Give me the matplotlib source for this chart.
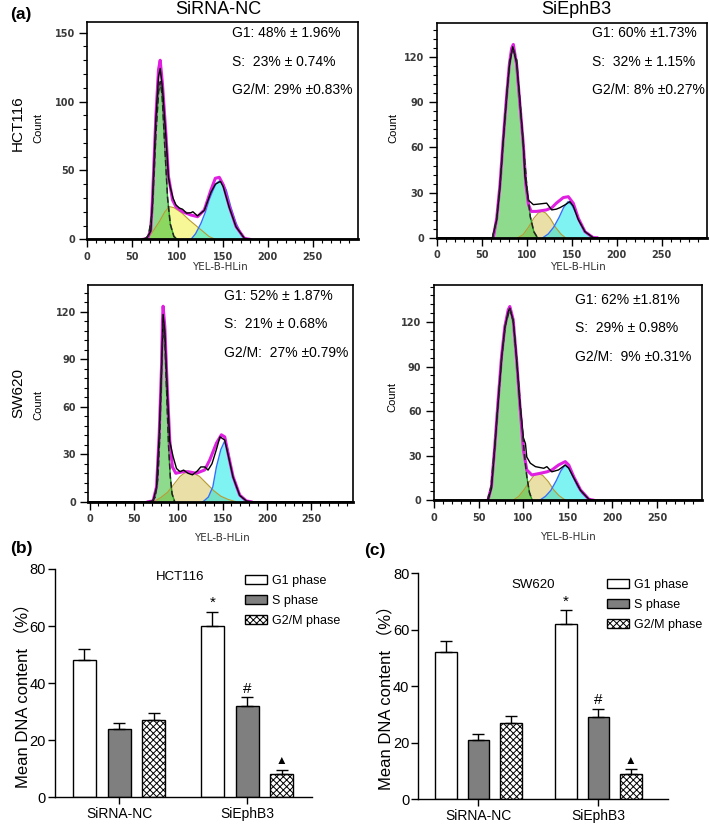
import numpy as np
import matplotlib
matplotlib.use("Agg")
import matplotlib.pyplot as plt
from matplotlib.ticker import FixedLocator
from matplotlib.patches import Patch

W, H = 709, 824

# ---- flow cytometry histograms ----
# HCT116 / SiRNA-NC
a_env_x = [62, 66.7, 70.4, 72.2, 76, 78.9, 80.8, 83.3, 87.1, 90, 92.6, 94.5, 98.2, 105.6, 114.9,
           122.2, 129.7, 137, 141.9, 146.3, 150.8, 157.4, 164.9, 174.1, 180]
a_env_y = [0, 0.5, 6.8, 28.5, 89, 123, 130, 113, 77, 45.5, 35.8, 28.5, 23.7, 20, 17.6,
           16.4, 21.3, 35.8, 44.3, 45, 39.4, 23.7, 9.2, 0.7, 0]
a_dat_x = [0, 60, 66, 70.4, 72.2, 76, 78.9, 80.8, 83.3, 87.1, 90, 91.9, 95, 98.2, 102, 105.6, 110,
           114.9, 117, 122.2, 129.7, 137, 141.9, 147.6, 150.8, 157.4, 164.9, 174.1, 180, 300]
a_dat_y = [0, 0, 1, 6, 27, 87, 118, 124, 110, 75, 45, 38, 30, 25, 22.7, 21.8, 19, 19.3, 20, 17,
           21, 34, 40, 42, 38, 23, 9, 0.7, 0, 0]
a_g1_x = [64, 68, 72, 76, 79, 81, 83, 86, 89, 92, 96, 100]
a_g1_y = [0, 3, 20, 76, 107, 114.5, 104, 66, 30, 11, 2, 0]
a_s_x = [66, 72, 80, 86, 91, 96, 105, 113, 124, 135, 142]
a_s_y = [0, 5, 13, 20, 23.7, 23, 19, 14, 8, 2, 0]
a_g2_x = [115, 120, 126, 131, 135, 139, 143, 147, 150, 154, 159, 165, 172, 178]
a_g2_y = [0, 4, 11.6, 20, 28.5, 35, 40.7, 42.6, 41, 35.8, 23.7, 11.6, 2, 0]

# HCT116 / SiEphB3
b_env_x = [62.9, 66.7, 70.3, 74, 77.8, 80.7, 83.3, 85.2, 88.9, 92.6, 96.3, 99, 102, 105, 111,
           122, 128, 133, 140.7, 146.3, 151.8, 157.4, 164.8, 174, 178]
b_env_y = [0, 12.9, 35, 66, 95, 115, 126, 128.5, 115, 88, 62, 36, 22, 17.5, 17.5,
           18.5, 20, 23, 26.7, 27.3, 22.9, 12.9, 4, 0, 0]
b_dat_x = [0, 62, 66.7, 70.3, 74, 77.8, 80.7, 84.5, 88.9, 92.6, 96.3, 98.1, 101.9, 107.4, 115,
           122.2, 127.8, 133, 137, 143, 148, 151.8, 157.4, 164.8, 174, 178, 300]
b_dat_y = [0, 0, 12, 34, 65, 94, 114, 127, 116, 90, 62, 41, 25, 22, 22.5,
           23, 18.5, 19, 20, 22, 24, 21, 12, 4, 0, 0, 0]
b_g1_x = [62, 66.5, 70.3, 74, 77.8, 81.5, 85, 88.9, 92.6, 96.3, 100, 104, 108, 112]
b_g1_y = [0, 12, 34, 65, 95, 120, 126, 118, 90, 62, 35, 14, 4, 0]
b_s_x = [90, 96, 102, 108, 113, 117, 121, 126, 132, 138, 143]
b_s_y = [0, 2, 7, 13, 16.5, 17.5, 16.5, 13, 7, 2.5, 0]
b_g2_x = [118, 124, 130, 136, 141, 146, 150, 155, 160, 166, 172, 178]
b_g2_y = [0, 2.5, 7, 13.5, 20, 24, 22, 16, 9, 3.5, 1, 0]

# SW620 / SiRNA-NC
c_env_x = [66, 71.6, 75.5, 78.5, 81.1, 82.2, 82.9, 84.8, 87.4, 90.4, 93.4, 97.2, 105.4, 111,
           120.5, 129.8, 135.5, 143, 148.6, 152.4, 156.1, 161.8, 169.3, 176.8, 182]
c_env_y = [0, 0.5, 9.5, 43, 85.6, 115, 123.6, 111, 75, 39, 22, 18, 19, 19,
           18, 20.1, 26.4, 37, 42.3, 41, 30.7, 15.9, 4.2, 0.5, 0]
c_dat_x = [0, 66, 71.6, 75.5, 78.5, 81.1, 82.9, 84.8, 87.4, 90.4, 94.2, 98, 102, 106, 111, 116,
           121.6, 125.4, 130, 133.6, 138, 143, 147, 152.4, 156.1, 161.8, 169.3, 176.8, 182, 300]
c_dat_y = [0, 0, 0.5, 9, 42, 84, 118.4, 108, 73, 38, 28.5, 21, 19, 20, 18, 17,
           19.5, 22, 22, 20, 24, 33, 41, 39, 30, 15.5, 4, 0.5, 0, 0]
c_g1_x = [70, 74, 77, 79, 81, 83, 85, 87, 89, 91, 93, 96]
c_g1_y = [0, 3, 15, 40, 80, 113, 100, 68, 36, 16, 5, 0]
c_s_x = [72, 80, 88, 95, 102, 109, 116, 124, 132, 140, 148, 156, 165]
c_s_y = [0, 2.5, 6, 11, 16, 19, 18.5, 16, 11.5, 7, 3.5, 1.5, 0]
c_g2_x = [128, 134, 139, 143, 148, 152, 156, 160, 165, 170, 175, 180]
c_g2_y = [0, 3, 9.5, 22, 33, 38, 33, 20, 9.5, 4, 1, 0]

# SW620 / SiEphB3
d_env_x = [60.6, 64.4, 68.1, 71.9, 75.7, 79.4, 83.2, 85, 88.8, 92.6, 96.4, 100.2, 104, 109.6,
           119, 126.5, 132.2, 139.6, 147.1, 151, 156.6, 164.2, 173.6, 178]
d_env_y = [0, 9, 36, 67.5, 96.8, 117, 128.3, 130.5, 121.5, 94.5, 63, 33.8, 20.3, 16.9,
           18, 19, 20.3, 23.6, 25.9, 23.6, 15.7, 6.8, 0.5, 0]
d_dat_x = [0, 60.6, 64.4, 68.1, 71.9, 75.7, 79.4, 83.2, 85, 88.8, 92.6, 96.4, 100.2, 102.5, 104,
           108, 113.7, 123, 126.5, 132, 139.6, 147, 151, 156.6, 164.2, 173.6, 178, 300]
d_dat_y = [0, 0, 8, 35, 66, 95, 116, 127, 129.4, 121, 95, 64, 42, 38, 29,
           24.8, 22.5, 21.4, 22.5, 19, 20.3, 23.6, 21.5, 15, 6.5, 0.5, 0, 0]
d_g1_x = [60, 64, 68, 72, 76, 80, 85, 89, 93, 97, 101, 104, 107, 110]
d_g1_y = [0, 9, 36, 67, 97, 118, 129, 120, 93, 62, 33, 16, 5, 0]
d_s_x = [89, 95, 101, 107, 112, 117, 122, 128, 134, 140, 147]
d_s_y = [0, 2.5, 7, 12.5, 16.5, 18, 16.5, 12.5, 7, 3, 0]
d_g2_x = [119, 125, 131, 137, 142, 147, 151, 156, 161, 166, 171, 177]
d_g2_y = [0, 2.5, 6.5, 13, 19.5, 23.6, 21.5, 15.5, 9, 4.5, 1.5, 0]

a_stats = ["G1: 48% \u00b1 1.96%", "S:  23% \u00b1 0.74%", "G2/M: 29% \u00b10.83%"]
b_stats = ["G1: 60% \u00b11.73%", "S:  32% \u00b1 1.15%", "G2/M: 8% \u00b10.27%"]
c_stats = ["G1: 52% \u00b1 1.87%", "S:  21% \u00b1 0.68%", "G2/M:  27% \u00b10.79%"]
d_stats = ["G1: 62% \u00b11.81%", "S:  29% \u00b1 0.98%", "G2/M:  9% \u00b10.31%"]

# ---- bar charts ----
groups = ["SiRNA-NC", "SiEphB3"]
phases = ["G1 phase", "S phase", "G2/M phase"]
hct_g1 = [48, 60]
hct_s = [24, 32]
hct_g2m = [27, 8]
hct_g1_err = [4, 5]
hct_s_err = [2, 3]
hct_g2m_err = [2.4, 1.7]
sw_g1 = [52, 62]
sw_s = [21, 29]
sw_g2m = [27, 9]
sw_g1_err = [4, 5]
sw_s_err = [2, 3]
sw_g2m_err = [2.4, 1.6]
marks = ["*", "#", "\u25b2"]

SANS = ["Liberation Sans", "DejaVu Sans"]
SANS_CJK = ["Liberation Sans", "Noto Sans CJK SC", "DejaVu Sans"]

fig = plt.figure(figsize=(W / 100, H / 100), dpi=100)


def ftext(x, y, s, **kw):
    fig.text(x / W, 1 - y / H, s, **kw)


def hist_panel(rect, xlim, ymax, yticks, yminor, env, dat, g1, s, g2, s_col, stats, stat_xy):
    ax = fig.add_axes(rect)
    ax.fill_between(s[0], s[1], color=s_col, alpha=0.5, lw=0)
    ax.fill_between(g2[0], g2[1], color="#00e6e6", alpha=0.5, lw=0)
    ax.fill_between(g1[0], g1[1], color="#32be32", alpha=0.55, lw=0)
    ax.plot(s[0], s[1], color="#b89a30", lw=0.8)
    ax.plot(g2[0], g2[1], color="#3070ff", lw=1.0)
    ax.plot(g1[0], g1[1], color="#2a9a2a", lw=1.0)
    ax.plot(env[0], env[1], color="#e020e0", lw=2.2)
    ax.plot(dat[0], dat[1], color="black", lw=1.0)
    ax.plot(g1[0], g1[1], color="#222222", lw=1.1, dashes=(4, 2))
    ax.set_xlim(*xlim)
    ax.set_ylim(0, ymax)
    ax.xaxis.set_major_locator(FixedLocator([0, 50, 100, 150, 200, 250]))
    ax.xaxis.set_minor_locator(FixedLocator(np.arange(0, 300, 10)))
    ax.yaxis.set_major_locator(FixedLocator(yticks))
    ax.yaxis.set_minor_locator(FixedLocator(np.arange(0, ymax, yminor)))
    ax.tick_params(which="major", direction="out", length=6, width=1,
                   labelsize=7, labelcolor="#3a3a3a", pad=3)
    ax.tick_params(which="minor", direction="out", length=3, width=0.8)
    for lab in ax.get_xticklabels() + ax.get_yticklabels():
        lab.set_fontweight("bold")
    for sp in ax.spines.values():
        sp.set_linewidth(1.2)
    ax.spines["bottom"].set_linewidth(2)
    for i, t in enumerate(stats):
        ftext(stat_xy[0], stat_xy[1] + i * 28.5, t, fontsize=10, family=SANS,
              ha="left", va="center")
    return ax


hist_panel([0.1231, 0.7096, 0.3818, 0.2641], (0, 300), 158, [0, 50, 100, 150], 10,
           (a_env_x, a_env_y), (a_dat_x, a_dat_y), (a_g1_x, a_g1_y), (a_s_x, a_s_y),
           (a_g2_x, a_g2_y), "#f0f030", a_stats, (232, 33))
hist_panel([0.6159, 0.7115, 0.3808, 0.2610], (0, 300), 143, [0, 30, 60, 90, 120], 6,
           (b_env_x, b_env_y), (b_dat_x, b_dat_y), (b_g1_x, b_g1_y), (b_s_x, b_s_y),
           (b_g2_x, b_g2_y), "#d4c050", b_stats, (592, 33))
hist_panel([0.1245, 0.3911, 0.3733, 0.2630], (-1.5, 297), 137, [0, 30, 60, 90, 120], 6,
           (c_env_x, c_env_y), (c_dat_x, c_dat_y), (c_g1_x, c_g1_y), (c_s_x, c_s_y),
           (c_g2_x, c_g2_y), "#d4c050", c_stats, (224, 296))
hist_panel([0.6121, 0.3932, 0.3776, 0.2609], (0, 300), 145, [0, 30, 60, 90, 120], 6,
           (d_env_x, d_env_y), (d_dat_x, d_dat_y), (d_g1_x, d_g1_y), (d_s_x, d_s_y),
           (d_g2_x, d_g2_y), "#d4c050", d_stats, (575, 300))

# panel labels and headings
ftext(10, 15, "(a)", fontsize=12.5, fontweight="bold", family=SANS, ha="left", va="center")
ftext(10, 549, "(b)", fontsize=12.5, fontweight="bold", family=SANS, ha="left", va="center")
ftext(364, 551, "(c)", fontsize=12.5, fontweight="bold", family=SANS, ha="left", va="center")
ftext(218, 9, "SiRNA-NC", fontsize=13, family=SANS, ha="center", va="center")
ftext(576, 9, "SiEphB3", fontsize=13, family=SANS, ha="center", va="center")
ftext(18, 123, "HCT116", fontsize=11, family=SANS, rotation=90, ha="center", va="center")
ftext(18, 393, "SW620", fontsize=11, family=SANS, rotation=90, ha="center", va="center")
for cx, cy in [(38, 128), (393, 128), (38, 405), (392, 397)]:
    ftext(cx, cy, "Count", fontsize=8, family=SANS, rotation=90, ha="center", va="center")
for cx, cy in [(220, 267), (578, 267), (222, 538), (568, 537)]:
    ftext(cx, cy, "YEL-B-HLin", fontsize=7.5, color="#333333", ha="center", va="center")


def bar_panel(rect, xlim, g1, s, g2m, g1e, se, g2e, title, title_xy, leg_anchor, ylab_xy):
    ax = fig.add_axes(rect)
    x = np.arange(len(groups))
    off, w = 0.27, 0.18
    vals = [g1, s, g2m]
    errs = [g1e, se, g2e]
    styles = [dict(color="white"), dict(color="#7f7f7f"), dict(color="white", hatch="xxxxx")]
    for k in range(3):
        xs = x + (k - 1) * off
        ax.bar(xs, vals[k], w, edgecolor="black", linewidth=1.0, label=phases[k], **styles[k])
        ax.errorbar(xs, vals[k], yerr=[np.zeros(2), errs[k]], fmt="none", ecolor="black",
                    elinewidth=1.0, capsize=4.5, capthick=1.0)
        top = vals[k][1] + errs[k][1]
        ax.text(xs[1], top + 3, marks[k], ha="center", va="center",
                fontsize=11 if k < 2 else 8.5, family=SANS)
    ax.set_xlim(*xlim)
    ax.set_ylim(0, 80)
    ax.set_yticks([0, 20, 40, 60, 80])
    ax.set_xticks(x)
    ax.set_xticklabels(groups)
    ax.spines["top"].set_visible(False)
    ax.spines["right"].set_visible(False)
    ax.spines["left"].set_linewidth(1.0)
    ax.spines["bottom"].set_linewidth(1.0)
    ax.tick_params(direction="out", length=5, width=1.0, labelsize=10.5, pad=1.5)
    ax.tick_params(axis="x", labelsize=10, pad=2)
    for lab in ax.get_xticklabels() + ax.get_yticklabels():
        lab.set_family(SANS)
    ax.text(title_xy[0], title_xy[1], title, ha="center", va="center", fontsize=9.5, family=SANS)
    handles = [Patch(facecolor="white", edgecolor="black", lw=1.0),
               Patch(facecolor="#7f7f7f", edgecolor="black", lw=1.0),
               Patch(facecolor="white", edgecolor="black", hatch="xxxxx", lw=1.0)]
    ax.legend(handles, phases, loc="upper left", bbox_to_anchor=leg_anchor, frameon=False,
              prop={"family": SANS, "size": 9}, handlelength=1.8, handleheight=0.75,
              labelspacing=0.65, handletextpad=0.4, borderaxespad=0, borderpad=0)
    ftext(ylab_xy[0], ylab_xy[1], "Mean DNA content \uff08%\uff09", fontsize=12,
          family=SANS_CJK, rotation=90, ha="center", va="center")
    return ax


plt.rcParams["hatch.linewidth"] = 0.7
bar_panel([0.0776, 0.0324, 0.3620, 0.2771], (-0.5, 1.505), hct_g1, hct_s, hct_g2m,
          hct_g1_err, hct_s_err, hct_g2m_err, "HCT116", (0.477, 77.3), (0.74, 0.975), (22, 692))
bar_panel([0.5900, 0.0300, 0.3522, 0.2742], (-0.5, 1.58), sw_g1, sw_s, sw_g2m,
          sw_g1_err, sw_s_err, sw_g2m_err, "SW620", (0.46, 75.9), (0.755, 0.975), (385, 694))

fig.savefig("out.png", dpi=100)
